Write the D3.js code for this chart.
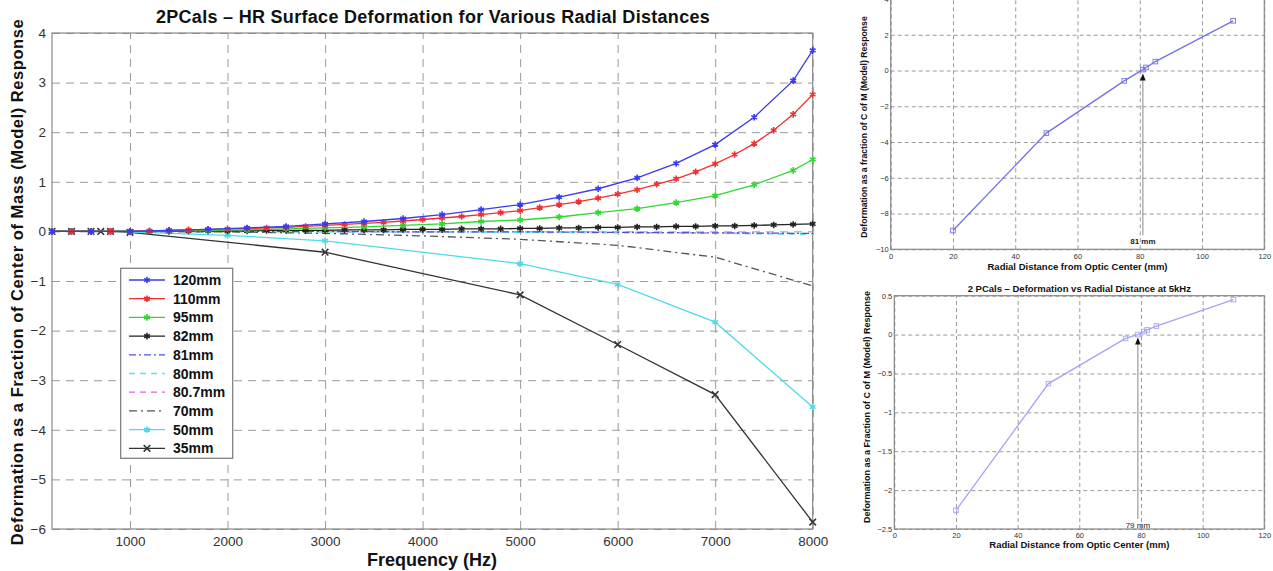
<!DOCTYPE html>
<html>
<head>
<meta charset="utf-8">
<script src="https://cdn.jsdelivr.net/npm/d3@7"></script>
<style>
  body { margin: 0; background: #fff; }
  text { font-family: "Liberation Sans", Arial, sans-serif; }
</style>
</head>
<body>
<div id="container"></div>
<script>
// DATA
const freqDense = [200, 400, 600, 800, 1000, 1200, 1400, 1600, 1800, 2000,
  2200, 2400, 2600, 2800, 3000, 3200, 3400, 3600, 3800, 4000,
  4200, 4400, 4600, 4800, 5000, 5200, 5400, 5600, 5800, 6000,
  6200, 6400, 6600, 6800, 7000, 7200, 7400, 7600, 7800, 8000];
const freqHalf = [200, 600, 1000, 1400, 1800, 2200, 2600, 3000, 3400, 3800,
  4200, 4600, 5000, 5400, 5800, 6200, 6600, 7000, 7400, 7800, 8000];
const freqSparse = [200, 1000, 2000, 3000, 4000, 5000, 6000, 7000, 8000];
const freq50 = [200, 400, 600, 800, 1000, 2000, 3000, 5000, 6000, 7000, 8000];
const freq35 = [200, 400, 600, 700, 800, 1000, 3000, 5000, 6000, 7000, 8000];

const r120 = [0, 0, 0, 0.02, 0.04, 0.07, 0.1, 0.15, 0.2, 0.26,
  0.34, 0.44, 0.54, 0.69, 0.86, 1.08, 1.37, 1.75, 2.3, 3.04, 3.65];
const r110 = [0, 0, 0, 0, 0, 0.01, 0.02, 0.03, 0.04, 0.05,
  0.06, 0.07, 0.08, 0.1, 0.12, 0.14, 0.16, 0.18, 0.21, 0.24,
  0.27, 0.3, 0.34, 0.38, 0.42, 0.48, 0.54, 0.6, 0.67, 0.75,
  0.84, 0.95, 1.06, 1.2, 1.36, 1.55, 1.77, 2.04, 2.36, 2.76];
const r95 = [0, 0, 0, 0.01, 0.02, 0.03, 0.05, 0.07, 0.09, 0.12,
  0.15, 0.2, 0.23, 0.29, 0.38, 0.46, 0.58, 0.72, 0.94, 1.23, 1.45];
const r82 = [0, 0, 0, 0, 0, 0, 0, 0.01, 0.01, 0.01,
  0.01, 0.02, 0.02, 0.02, 0.02, 0.03, 0.03, 0.03, 0.04, 0.04,
  0.04, 0.05, 0.05, 0.05, 0.06, 0.06, 0.07, 0.07, 0.08, 0.08,
  0.09, 0.09, 0.1, 0.1, 0.11, 0.11, 0.12, 0.13, 0.14, 0.15];
const r81 = [0, 0, 0, 0, -0.01, -0.01, -0.02, -0.03, -0.04];
const r80 = [0, 0, 0, -0.01, -0.01, -0.02, -0.03, -0.04, -0.06];
const r80_7 = [0, 0, 0, 0, -0.01, -0.01, -0.02, -0.03, -0.05];
const r70 = [0, 0, -0.01, -0.04, -0.09, -0.16, -0.28, -0.52, -1.1];
const r50 = [0, 0, 0, 0, -0.01, -0.08, -0.19, -0.65, -1.07, -1.83, -3.54];
const r35 = [0, 0, 0, 0, 0, -0.02, -0.42, -1.28, -2.28, -3.29, -5.86];

const xTicksMain = [1000, 2000, 3000, 4000, 5000, 6000, 7000, 8000];
const yTicksMain = [-6, -5, -4, -3, -2, -1, 0, 1, 2, 3, 4];

// deformation vs radius at 8 kHz (top right) and 5 kHz (bottom right)
const radius8k = [20, 50, 75, 81, 82, 85, 110];
const deform8k = [-8.95, -3.5, -0.58, 0.05, 0.17, 0.5, 2.78];
const radius5k = [20, 50, 75, 79, 81, 82, 85, 110];
const deform5k = [-2.26, -0.63, -0.05, 0.0, 0.04, 0.06, 0.11, 0.45];
const xTicksRad = [0, 20, 40, 60, 80, 100, 120];
const yTicks8k = [-10, -8, -6, -4, -2, 0, 2, 4];
const yTicks5k = [-2.5, -2, -1.5, -1, -0.5, 0, 0.5];
const zeroCross8k = 81, zeroCross5k = 79;

const series = [
  { name: "120mm", x: freqHalf, y: r120, color: "#3a3af0", dash: null, marker: "star" },
  { name: "110mm", x: freqDense, y: r110, color: "#f03030", dash: null, marker: "star" },
  { name: "95mm", x: freqHalf, y: r95, color: "#30d830", dash: null, marker: "star" },
  { name: "82mm", x: freqDense, y: r82, color: "#222", dash: null, marker: "star" },
  { name: "81mm", x: freqSparse, y: r81, color: "#5050e0", dash: "7,3,2,3", marker: null },
  { name: "80mm", x: freqSparse, y: r80, color: "#55e4ee", dash: "6,5", marker: null },
  { name: "80.7mm", x: freqSparse, y: r80_7, color: "#e060e0", dash: "6,5", marker: null },
  { name: "70mm", x: freqSparse, y: r70, color: "#555", dash: "8,4,2,4", marker: null },
  { name: "50mm", x: freq50, y: r50, color: "#4edbe8", dash: null, marker: "star" },
  { name: "35mm", x: freq35, y: r35, color: "#333", dash: null, marker: "x" }
];

const svg = d3.select("#container")
  .append("svg")
  .attr("width", 1273)
  .attr("height", 571);

svg.append("rect").attr("width", 1273).attr("height", 571).attr("fill", "#fff");

// grid + box + tick labels for one panel
function drawFrame(g, xScale, yScale, xTicks, yTicks, o) {
  const [x0, x1] = xScale.range();
  const [y0, y1] = yScale.range();

  g.append("g")
    .attr("transform", `translate(0, ${y0})`)
    .call(d3.axisBottom(xScale).tickValues(xTicks).tickSize(y1 - y0).tickFormat(""))
    .call(a => a.select(".domain").remove())
    .call(a => a.selectAll("line").attr("stroke", "#9a9a9a").attr("stroke-dasharray", o.dash));

  g.append("g")
    .attr("transform", `translate(${x0}, 0)`)
    .call(d3.axisLeft(yScale).tickValues(yTicks).tickSize(x0 - x1).tickFormat(""))
    .call(a => a.select(".domain").remove())
    .call(a => a.selectAll("line").attr("stroke", "#9a9a9a").attr("stroke-dasharray", o.dash));

  g.append("rect")
    .attr("x", x0).attr("y", y1)
    .attr("width", x1 - x0).attr("height", y0 - y1)
    .attr("fill", "none").attr("stroke", "#888").attr("stroke-width", 1.2);

  const fmt = d3.format("");
  g.append("g")
    .attr("transform", `translate(0, ${y0})`)
    .call(d3.axisBottom(xScale).tickValues(xTicks).tickSize(0).tickPadding(o.pad).tickFormat(fmt))
    .call(a => a.select(".domain").remove())
    .call(a => a.selectAll("text").attr("font-size", o.font).attr("fill", "#333")
      .attr("font-family", "Liberation Sans, Arial, sans-serif"));

  g.append("g")
    .attr("transform", `translate(${x0}, 0)`)
    .call(d3.axisLeft(yScale).tickValues(yTicks).tickSize(0).tickPadding(o.padY).tickFormat(fmt))
    .call(a => a.select(".domain").remove())
    .call(a => a.selectAll("text").attr("font-size", o.font).attr("fill", "#333")
      .attr("font-family", "Liberation Sans, Arial, sans-serif"));
}

function markerPath(type, size) {
  const sym = type === "x" ? d3.symbolTimes : d3.symbolAsterisk;
  return d3.symbol(sym, size)();
}

// ---------- MAIN CHART ----------
const main = svg.append("g");
const xMain = d3.scaleLinear().domain([200, 8000]).range([52, 812.7]);
const yMain = d3.scaleLinear().domain([-6, 4]).range([529, 33]);

drawFrame(main, xMain, yMain, xTicksMain, yTicksMain,
  { dash: "8,6", font: 13.5, pad: 7, padY: 6 });

const line = d3.line()
  .x(d => xMain(d[0]))
  .y(d => yMain(d[1]));

series.slice().reverse().forEach(s => {
  const pts = s.x.map((f, i) => [f, s.y[i]]);
  main.append("path")
    .datum(pts)
    .attr("fill", "none")
    .attr("stroke", s.color)
    .attr("stroke-width", 1.3)
    .attr("stroke-dasharray", s.dash)
    .attr("d", line);
  if (s.marker) {
    main.append("g").selectAll("path")
      .data(pts)
      .join("path")
      .attr("transform", d => `translate(${xMain(d[0])}, ${yMain(d[1])})`)
      .attr("d", markerPath(s.marker, 30))
      .attr("fill", "none")
      .attr("stroke", s.color)
      .attr("stroke-width", 1.6);
  }
});

main.append("text")
  .attr("x", 433).attr("y", 23)
  .attr("text-anchor", "middle")
  .attr("font-size", 18).attr("font-weight", "bold").attr("letter-spacing", 0.3).attr("fill", "#111")
  .text("2PCals – HR Surface Deformation for Various Radial Distances");

main.append("text")
  .attr("x", 432).attr("y", 566)
  .attr("text-anchor", "middle")
  .attr("font-size", 18).attr("font-weight", "bold").attr("fill", "#111")
  .text("Frequency (Hz)");

main.append("text")
  .attr("transform", "translate(23, 282) rotate(-90)")
  .attr("text-anchor", "middle")
  .attr("font-size", 16.5).attr("font-weight", "bold").attr("letter-spacing", 0.55).attr("fill", "#111")
  .text("Deformation as a Fraction of Center of Mass (Model) Response");

// legend
const legend = main.append("g");
legend.append("rect")
  .attr("x", 120.7).attr("y", 268.3)
  .attr("width", 112).attr("height", 190)
  .attr("fill", "#fff").attr("stroke", "#777").attr("stroke-width", 1.2);

series.forEach((s, i) => {
  const ly = 280 + i * 18.7;
  legend.append("line")
    .attr("x1", 129).attr("x2", 165)
    .attr("y1", ly).attr("y2", ly)
    .attr("stroke", s.color).attr("stroke-width", 1.3)
    .attr("stroke-dasharray", s.dash);
  if (s.marker) {
    legend.append("path")
      .attr("transform", `translate(147, ${ly})`)
      .attr("d", markerPath(s.marker, 30))
      .attr("fill", "none").attr("stroke", s.color).attr("stroke-width", 1.6);
  }
  legend.append("text")
    .attr("x", 173).attr("y", ly + 5)
    .attr("font-size", 14).attr("font-weight", "bold").attr("fill", "#111")
    .text(s.name);
});

// ---------- SMALL RADIAL CHARTS ----------
function radialChart(opts) {
  const g = svg.append("g");
  const xS = d3.scaleLinear().domain([0, 120]).range([opts.left, opts.right]);
  const yS = d3.scaleLinear().domain(opts.yDomain).range([opts.bottom, opts.top]);

  drawFrame(g, xS, yS, xTicksRad, opts.yTicks, { dash: "4,3", font: 7.5, pad: 4, padY: 2 });

  const pts = opts.r.map((r, i) => [r, opts.v[i]]);
  g.append("path")
    .datum(pts)
    .attr("fill", "none")
    .attr("stroke", opts.color)
    .attr("stroke-width", 1.3)
    .attr("d", d3.line().x(d => xS(d[0])).y(d => yS(d[1])));

  g.append("g").selectAll("rect")
    .data(pts)
    .join("rect")
    .attr("x", d => xS(d[0]) - 2.3).attr("y", d => yS(d[1]) - 2.3)
    .attr("width", 4.6).attr("height", 4.6)
    .attr("fill", "none").attr("stroke", opts.color).attr("stroke-width", 0.9);

  // arrow marking the zero crossing
  const ax = xS(opts.cross);
  g.append("line")
    .attr("x1", ax).attr("x2", ax)
    .attr("y1", opts.bottom - opts.arrowFrom).attr("y2", yS(0) + 8)
    .attr("stroke", "#888").attr("stroke-width", 1);
  g.append("path")
    .attr("d", `M${ax},${yS(0) + 3} L${ax - 2.8},${yS(0) + 10} L${ax + 2.8},${yS(0) + 10} Z`)
    .attr("fill", "#111");
  g.append("text")
    .attr("x", ax).attr("y", opts.bottom - opts.arrowFrom + 9)
    .attr("text-anchor", "middle")
    .attr("font-size", 8).attr("font-weight", opts.crossBold ? "bold" : "normal").attr("fill", "#222")
    .text(`${opts.cross} mm`);

  if (opts.title) {
    g.append("text")
      .attr("x", (opts.left + opts.right) / 2).attr("y", opts.top - 4)
      .attr("text-anchor", "middle")
      .attr("font-size", 9.5).attr("font-weight", "bold").attr("fill", "#111")
      .text(opts.title);
  }

  g.append("text")
    .attr("x", (opts.left + opts.right) / 2).attr("y", opts.bottom + opts.xlabGap)
    .attr("text-anchor", "middle")
    .attr("font-size", 9.5).attr("font-weight", "bold").attr("fill", "#111")
    .text("Radial Distance from Optic Center (mm)");

  g.append("text")
    .attr("transform", `translate(${opts.left - 24}, ${opts.ylabCenter}) rotate(-90)`)
    .attr("text-anchor", "middle")
    .attr("font-size", opts.ylabFont).attr("font-weight", "bold").attr("fill", "#111")
    .text(opts.ylabel);
}

radialChart({
  left: 890.7, right: 1264.3, top: -1, bottom: 249.3,
  yDomain: [-10, 4], yTicks: yTicks8k,
  r: radius8k, v: deform8k, color: "#7272e6",
  cross: zeroCross8k, crossBold: true, arrowFrom: 14, xlabGap: 21,
  ylabCenter: 127, ylabFont: 8.7,
  ylabel: "Deformation as a fraction of C of M (Model) Response"
});

radialChart({
  left: 894.3, right: 1264.3, top: 295.7, bottom: 529,
  yDomain: [-2.5, 0.5], yTicks: yTicks5k,
  r: radius5k, v: deform5k, color: "#a4a4f2",
  cross: zeroCross5k, crossBold: false, arrowFrom: 10, xlabGap: 19,
  ylabCenter: 407, ylabFont: 9,
  title: "2 PCals – Deformation vs Radial Distance at 5kHz",
  ylabel: "Deformation as a Fraction of C of M (Model) Response"
});
</script>
</body>
</html>
